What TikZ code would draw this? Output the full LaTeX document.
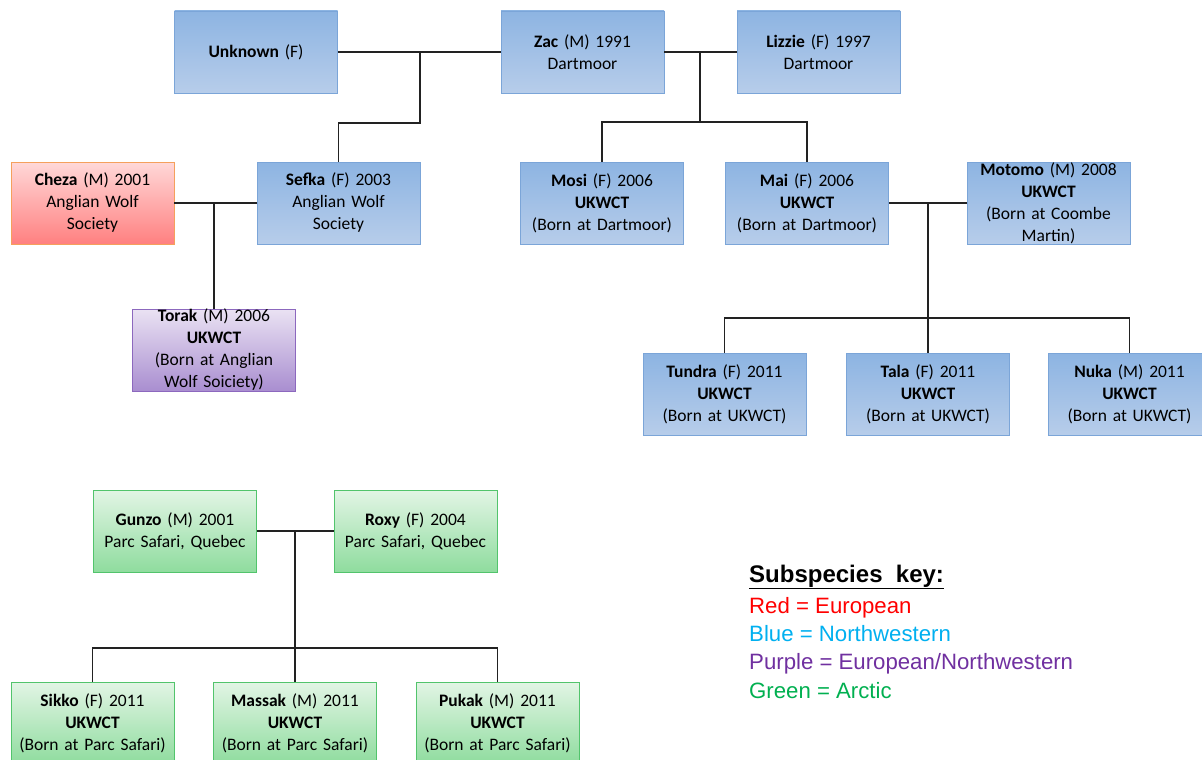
\documentclass[tikz,border=0pt]{standalone}
\usepackage{fontspec}
\setmainfont{Carlito}
\newfontfamily\keyfont{Liberation Sans}
\definecolor{bluetop}{HTML}{8DB4E2}
\definecolor{bluebot}{HTML}{B7CDEA}
\definecolor{blueedge}{HTML}{7BA5D8}
\definecolor{redtop}{HTML}{FFD8D8}
\definecolor{redbot}{HTML}{FF8080}
\definecolor{rededge}{HTML}{F5A05C}
\definecolor{purtop}{HTML}{EAE2F3}
\definecolor{purbot}{HTML}{A98ED0}
\definecolor{puredge}{HTML}{8C68BE}
\definecolor{grntop}{HTML}{E2F5E5}
\definecolor{grnbot}{HTML}{8FDC9E}
\definecolor{grnedge}{HTML}{52C46C}
\definecolor{keyred}{HTML}{FF0000}
\definecolor{keyblue}{HTML}{00B0F0}
\definecolor{keypur}{HTML}{7030A0}
\definecolor{keygrn}{HTML}{00B050}
\definecolor{linec}{HTML}{222222}
\tikzset{
  wolf/.style={rectangle, line width=0.9pt, minimum width=163pt, minimum height=82pt,
    inner sep=0pt, text width=160pt, align=center,
    font=\fontsize{17.5}{22}\selectfont},
  bbox/.style={wolf, draw=blueedge, top color=bluetop, bottom color=bluebot},
  rbox/.style={wolf, draw=rededge, top color=redtop, bottom color=redbot},
  pbox/.style={wolf, draw=puredge, top color=purtop, bottom color=purbot},
  gbox/.style={wolf, draw=grnedge, top color=grntop, bottom color=grnbot},
  conn/.style={draw=linec, line width=1.6pt},
  keyline/.style={anchor=base west, inner sep=0pt, font=\keyfont\fontsize{22.2}{26}\selectfont}
}
\begin{document}
\begin{tikzpicture}[x=1pt,y=-1pt]
\useasboundingbox[fill=white] (0,0) rectangle (1202,760);
% nodes
\node[bbox] (unk) at (256,52) {\textbf{Unknown} (F)};
\node[bbox] (zac) at (582.5,52) {\textbf{Zac} (M) 1991\\Dartmoor};
\node[bbox] (liz) at (818.5,52) {\textbf{Lizzie} (F) 1997\\Dartmoor};
\node[rbox] (cheza) at (92.5,203) {\textbf{Cheza} (M) 2001\\Anglian Wolf\\Society};
\node[bbox] (sefka) at (338.5,203) {\textbf{Sefka} (F) 2003\\Anglian Wolf\\Society};
\node[bbox] (mosi) at (602,203) {\textbf{Mosi} (F) 2006\\\textbf{UKWCT}\\(Born at Dartmoor)};
\node[bbox] (mai) at (807,203) {\textbf{Mai} (F) 2006\\\textbf{UKWCT}\\(Born at Dartmoor)};
\node[bbox] (moto) at (1048.5,203) {\textbf{Motomo} (M) 2008\\\textbf{UKWCT}\\(Born at Coombe\\Martin)};
\node[pbox] (torak) at (214,350) {\textbf{Torak} (M) 2006\\\textbf{UKWCT}\\(Born at Anglian\\Wolf Soiciety)};
\node[bbox] (tundra) at (724.5,394.5) {\textbf{Tundra} (F) 2011\\\textbf{UKWCT}\\(Born at UKWCT)};
\node[bbox] (tala) at (928,394.5) {\textbf{Tala} (F) 2011\\\textbf{UKWCT}\\(Born at UKWCT)};
\node[bbox] (nuka) at (1129.5,394.5) {\textbf{Nuka} (M) 2011\\\textbf{UKWCT}\\(Born at UKWCT)};
\node[gbox] (gunzo) at (175,531) {\textbf{Gunzo} (M) 2001\\Parc Safari, Quebec};
\node[gbox] (roxy) at (415.5,531) {\textbf{Roxy} (F) 2004\\Parc Safari, Quebec};
\node[gbox] (sikko) at (92.5,723) {\textbf{Sikko} (F) 2011\\\textbf{UKWCT}\\(Born at Parc Safari)};
\node[gbox] (massak) at (295,723) {\textbf{Massak} (M) 2011\\\textbf{UKWCT}\\(Born at Parc Safari)};
\node[gbox] (pukak) at (497.5,723) {\textbf{Pukak} (M) 2011\\\textbf{UKWCT}\\(Born at Parc Safari)};
% junction coordinates
\coordinate (j1) at (420,52);
\coordinate (j1b) at (420,123);
\coordinate (j2) at (700,52);
\coordinate (j2b) at (700,122);
\coordinate (j3) at (214,203);
\coordinate (j4) at (928,203);
\coordinate (j4b) at (928,318);
\coordinate (j5) at (295,531);
\coordinate (j5b) at (295,648);
% connectors
\draw[conn] (unk.east) -- (zac.west);
\draw[conn] (j1) -- (j1b) -| (sefka.north);
\draw[conn] (zac.east) -- (liz.west);
\draw[conn] (j2) -- (j2b);
\draw[conn] (mosi.north) |- (j2b) -| (mai.north);
\draw[conn] (cheza.east) -- (sefka.west);
\draw[conn] (j3) -- (torak.north);
\draw[conn] (mai.east) -- (moto.west);
\draw[conn] (j4) -- (tala.north);
\draw[conn] (tundra.north) |- (j4b) -| (nuka.north);
\draw[conn] (gunzo.east) -- (roxy.west);
\draw[conn] (j5) -- (massak.north);
\draw[conn] (sikko.north) |- (j5b) -| (pukak.north);
% key
\node[anchor=base west, inner sep=0pt, font=\keyfont\bfseries\fontsize{24}{28}\selectfont] (keyt) at (749,582) {\underline{Subspecies\ \ key:}};
\node[keyline, text=keyred] (k1) at (749,613) {Red = European};
\node[keyline, text=keyblue] (k2) at (749,641) {Blue = Northwestern};
\node[keyline, text=keypur] (k3) at (749,669) {Purple = European/Northwestern};
\node[keyline, text=keygrn] (k4) at (749,698) {Green = Arctic};
\end{tikzpicture}
\end{document}
